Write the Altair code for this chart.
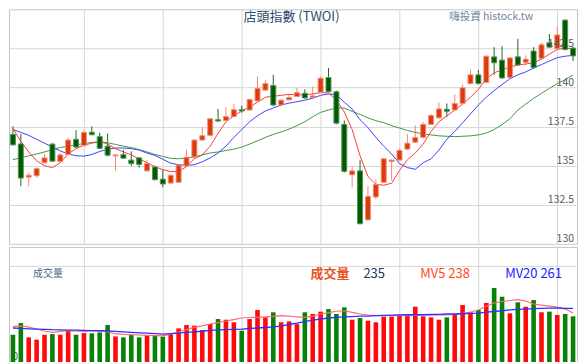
import altair as alt
import pandas as pd
import numpy as np

opens = [137.0, 136.39, 134.27, 134.36, 135.19, 136.38, 135.27, 135.71, 136.69, 136.29,
         137.14, 136.86, 136.25, 135.63, 135.71, 135.36, 135.5, 134.67, 134.92, 134.14,
         133.89, 133.94, 134.98, 135.56, 136.64, 136.94, 137.94, 137.89, 138.14, 138.58,
         138.56, 139.14, 139.83, 140.13, 138.88, 139.21, 139.42, 139.63, 139.36, 139.69,
         140.64, 139.73, 137.64, 134.42, 134.67, 131.54, 133.0, 133.94, 135.27, 135.36,
         136.06, 136.5, 136.81, 137.64, 138.06, 138.61, 138.56, 138.98, 140.25, 140.81,
         140.33, 141.96, 141.75, 140.64, 141.96, 141.61, 142.33, 141.86, 142.86, 142.48,
         144.31, 142.52]
closes = [136.33, 134.21, 134.39, 134.81, 135.5, 135.29, 135.69, 136.64, 136.19, 137.13,
          136.98, 136.11, 135.67, 135.69, 135.48, 135.13, 135.08, 135.14, 134.11, 133.83,
          134.39, 135.04, 135.54, 136.64, 136.92, 138.0, 137.86, 138.14, 138.58, 138.5,
          139.23, 139.94, 140.25, 138.88, 139.19, 139.36, 139.67, 139.33, 139.46, 140.59,
          139.73, 137.72, 134.64, 134.67, 131.29, 133.04, 133.79, 135.44, 135.36, 135.98,
          136.44, 136.81, 137.64, 138.21, 138.63, 138.48, 138.98, 139.98, 140.81, 140.25,
          142.0, 141.58, 140.61, 141.89, 141.44, 141.81, 141.27, 142.73, 142.58, 143.36,
          142.42, 142.02]
highs = [137.52, 137.02, 134.56, 134.88, 135.77, 136.44, 135.81, 136.81, 137.27, 137.25,
         137.52, 137.11, 137.06, 135.72, 136.02, 135.92, 135.55, 135.36, 135.0, 134.77,
         134.45, 135.1, 136.02, 136.7, 137.48, 138.05, 138.63, 138.73, 138.94, 138.83,
         139.3, 140.71, 140.5, 140.81, 139.25, 139.56, 139.98, 139.88, 140.06, 140.71,
         141.25, 139.8, 137.89, 134.94, 135.36, 133.69, 134.14, 135.5, 135.4, 136.1,
         137.03, 137.58, 137.8, 138.3, 139.04, 138.98, 139.56, 140.19, 141.13, 141.13,
         142.06, 142.58, 142.64, 141.95, 143.11, 142.06, 142.58, 142.86, 143.42, 143.89,
         144.35, 142.6]
lows = [136.3, 133.69, 133.69, 134.25, 135.15, 135.25, 135.19, 135.7, 136.15, 136.25,
        136.95, 136.05, 135.6, 134.69, 135.45, 134.98, 134.88, 134.6, 134.05, 133.63,
        133.85, 133.9, 134.95, 135.5, 136.6, 136.9, 137.79, 137.85, 138.1, 138.38,
        138.5, 139.1, 139.8, 138.8, 138.85, 139.2, 139.4, 139.3, 139.33, 139.65,
        139.7, 137.65, 134.56, 133.61, 131.25, 131.5, 132.86, 133.9, 134.06, 135.3,
        136.0, 136.45, 136.75, 137.6, 138.0, 138.11, 138.5, 138.95, 140.2, 140.2,
        140.3, 140.81, 140.55, 140.6, 141.4, 141.44, 141.2, 141.8, 142.55, 142.45,
        142.4, 141.69]
ma5 = [137.38, 136.56, 135.88, 135.31, 135.0, 134.88, 135.19, 135.75, 136.09, 136.31,
       136.44, 136.53, 136.39, 136.09, 135.88, 135.69, 135.44, 135.19, 134.94, 134.75,
       134.63, 134.63, 134.94, 135.44, 135.69, 136.25, 137.06, 137.81, 138.19, 138.5,
       138.75, 139.06, 139.38, 139.44, 139.5, 139.56, 139.53, 139.53, 139.59, 139.67,
       139.66, 139.19, 138.44, 137.31, 135.63, 134.31, 133.81, 133.75, 133.88, 134.69,
       135.38, 135.81, 136.38, 137.19, 137.81, 138.19, 138.56, 138.94, 139.38, 139.88,
       140.56, 140.94, 141.13, 141.31, 141.44, 141.5, 141.59, 141.81, 142.13, 142.44,
       142.52, 142.48]
ma10 = [137.31, 137.13, 136.94, 136.69, 136.44, 136.19, 135.94, 135.75, 135.64, 135.61,
        135.72, 135.91, 136.06, 136.13, 136.13, 136.09, 136.0, 135.81, 135.66, 135.41,
        135.16, 135.06, 135.03, 135.06, 135.25, 135.5, 135.81, 136.25, 136.81, 137.31,
        137.81, 138.19, 138.5, 138.69, 138.88, 139.0, 139.09, 139.19, 139.31, 139.5,
        139.59, 139.53, 139.06, 138.63, 137.94, 137.44, 136.81, 136.25, 135.75, 135.13,
        134.88, 134.77, 135.19, 135.44, 136.0, 136.69, 137.19, 137.75, 138.31, 138.88,
        139.38, 139.81, 140.19, 140.56, 140.81, 141.0, 141.25, 141.47, 141.69, 141.91,
        142.0, 142.06]
ma20 = [135.39, 135.5, 135.63, 135.75, 135.88, 136.03, 136.16, 136.25, 136.34, 136.41,
        136.48, 136.54, 136.47, 136.36, 136.25, 136.16, 136.03, 135.88, 135.72, 135.59,
        135.47, 135.44, 135.5, 135.56, 135.69, 135.81, 135.88, 135.97, 136.06, 136.19,
        136.38, 136.59, 136.81, 137.0, 137.16, 137.34, 137.56, 137.81, 138.13, 138.41,
        138.56, 138.69, 138.69, 138.47, 138.28, 138.06, 137.88, 137.75, 137.56, 137.41,
        137.25, 137.13, 137.03, 136.97, 136.91, 136.88, 136.86, 136.88, 136.91, 136.97,
        137.09, 137.31, 137.63, 138.0, 138.56, 138.94, 139.31, 139.63, 139.94, 140.25,
        140.5, 140.81]
vols = [223, 313, 203, 185, 223, 228, 223, 259, 223, 236,
        234, 241, 298, 210, 203, 221, 203, 221, 215, 208,
        228, 272, 298, 293, 259, 306, 344, 339, 319, 254,
        344, 414, 357, 396, 319, 326, 305, 396, 383, 401,
        421, 383, 434, 339, 352, 331, 319, 362, 362, 370,
        375, 439, 365, 357, 339, 357, 383, 452, 396, 414,
        468, 583, 516, 388, 473, 439, 491, 396, 401, 375,
        383, 365]
vma5 = [285, 292, 282, 267, 252, 242, 248, 254, 252, 249,
        252, 254, 244, 231, 226, 223, 221, 218, 216, 215,
        228, 244, 263, 280, 292, 306, 317, 329, 340, 352,
        356, 357, 361, 365, 370, 367, 360, 357, 367, 383,
        394, 404, 408, 396, 383, 375, 370, 370, 370, 370,
        371, 373, 375, 375, 375, 375, 379, 387, 398, 414,
        444, 468, 479, 487, 493, 483, 460, 452, 444, 437,
        421, 390]
vma20 = [275, 272, 269, 267, 265, 262, 261, 259, 258, 256,
         255, 254, 252, 249, 245, 242, 238, 235, 231, 228,
         232, 236, 241, 245, 250, 256, 261, 263, 265, 267,
         271, 275, 279, 284, 290, 302, 313, 325, 336, 344,
         352, 357, 360, 363, 366, 367, 370, 372, 375, 376,
         377, 377, 377, 379, 380, 383, 383, 385, 388, 390,
         397, 402, 408, 414, 418, 421, 424, 426, 428, 429,
         427, 427]

price_ticks = [130, 132.5, 135, 137.5, 140, 142.5]
price_labels = ["130", "132.5", "135", "137.5", "140", "142.5"]
vol_ticks = [0, 250, 500, 750]
x_grid = [9, 19, 29, 39, 49, 59, 69]

n = len(opens)
df = pd.DataFrame({
    "i": list(range(n)), "open": opens, "high": highs, "low": lows, "close": closes,
    "ma5": ma5, "ma10": ma10, "ma20": ma20,
    "vol": vols, "vma5": vma5, "vma20": vma20,
})
df["dir"] = np.where(df["close"] >= df["open"], "up", "down")

W = 569
H1 = 235
H2 = 117
FONT = "Noto Sans CJK TC"
GRID = "#d6d6d6"

xs = alt.Scale(domain=[-0.5, n - 0.5], nice=False, zero=False, padding=0)
x_axis = alt.Axis(values=x_grid, grid=True, gridColor=GRID, labels=False, ticks=False,
                  domain=False, title=None)
X = alt.X("i:Q", scale=xs, axis=x_axis)

ys = alt.Scale(domain=[130, 145], nice=False, zero=False, padding=0)
y_axis = alt.Axis(values=price_ticks, labels=False, ticks=False, domain=False, grid=True,
                  gridColor=GRID, title=None)

dirs = ["up", "down"]
body_fill = alt.Scale(domain=dirs, range=["#dd3a0c", "#005a00"])
body_stroke = alt.Scale(domain=dirs, range=["#f0907a", "#5c925c"])
wick_col = alt.Scale(domain=dirs, range=["#f08a70", "#1f6a1f"])

base = alt.Chart(df)

wicks = base.mark_rule(strokeWidth=1).encode(
    x=X,
    y=alt.Y("low:Q", scale=ys, axis=y_axis),
    y2="high:Q",
    color=alt.Color("dir:N", scale=wick_col, legend=None),
)
bodies = base.mark_bar(width=5, strokeWidth=1).encode(
    x=alt.X("i:Q", scale=xs),
    y=alt.Y("open:Q", scale=ys),
    y2="close:Q",
    fill=alt.Fill("dir:N", scale=body_fill, legend=None),
    stroke=alt.Stroke("dir:N", scale=body_stroke, legend=None),
)
l_ma20 = base.mark_line(color="#3f9a3f", strokeWidth=1).encode(
    x=alt.X("i:Q", scale=xs), y=alt.Y("ma20:Q", scale=ys))
l_ma10 = base.mark_line(color="#4040ff", strokeWidth=1).encode(
    x=alt.X("i:Q", scale=xs), y=alt.Y("ma10:Q", scale=ys))
l_ma5 = base.mark_line(color="#ff3b3b", strokeWidth=1).encode(
    x=alt.X("i:Q", scale=xs), y=alt.Y("ma5:Q", scale=ys))

plab = alt.Chart(pd.DataFrame({"v": price_ticks, "t": price_labels})).mark_text(
    font=FONT, fontSize=10.5, color="#5a5a5a", align="right", baseline="alphabetic", dy=-1.5
).encode(text="t:N", y=alt.Y("v:Q", scale=ys), x=alt.value(566))

title_txt = alt.Chart(pd.DataFrame({"t": ["店頭指數 (TWOI)"]})).mark_text(
    font=FONT, fontSize=13, color="#2e4d6e", align="center", baseline="top"
).encode(text="t:N", x=alt.value(283), y=alt.value(2))
brand_txt = alt.Chart(pd.DataFrame({"t": ["嗨投資 histock.tw"]})).mark_text(
    font=FONT, fontSize=10.5, color="#6f86a0", align="center", baseline="top"
).encode(text="t:N", x=alt.value(483), y=alt.value(3))

price = alt.layer(wicks, l_ma20, l_ma10, l_ma5, bodies, plab, title_txt,
                  brand_txt).properties(width=W, height=H1)

vs = alt.Scale(domain=[0, 900], nice=False, zero=True, padding=0)
v_axis = alt.Axis(values=vol_ticks, orient="left", labelAlign="left", labelBaseline="alphabetic",
                  labelPadding=-3, tickSize=0, ticks=False, domain=False, grid=True,
                  gridColor=GRID, labelColor="#5a5a5a", labelFontSize=10, labelFont=FONT,
                  labelOffset=-4,
                  labelExpr="datum.value == 750 ? '' : toString(datum.value)", title=None)
vol_col = alt.Scale(domain=dirs, range=["#ff0a0a", "#078207"])

vbars = base.mark_bar(width=4.6).encode(
    x=X,
    y=alt.Y("vol:Q", scale=vs, axis=v_axis),
    color=alt.Color("dir:N", scale=vol_col, legend=None),
)
v5 = base.mark_line(color="#ff6a6a", strokeWidth=1.2).encode(
    x=alt.X("i:Q", scale=xs), y=alt.Y("vma5:Q", scale=vs))
v20 = base.mark_line(color="#3030ff", strokeWidth=1.3).encode(
    x=alt.X("i:Q", scale=xs), y=alt.Y("vma20:Q", scale=vs))

leg_t = ["成交量", "成交量", "235", "MV5 238", "MV20 261"]
leg_x = [24, 302, 355, 412, 497]
leg_c = ["#4a6a8c", "#e8541c", "#26355e", "#ff4a1a", "#1a1aff"]
leg_s = [10, 13, 13, 13, 13]
leg_txt = []
for k in range(len(leg_t)):
    leg_txt.append(
        alt.Chart(pd.DataFrame({"t": [leg_t[k]]})).mark_text(
            font=FONT, fontSize=leg_s[k], color=leg_c[k], align="left", baseline="middle",
            fontWeight="bold" if k == 1 else "normal"
        ).encode(text="t:N", x=alt.value(leg_x[k]), y=alt.value(27))
    )

volume = alt.layer(vbars, v5, v20, *leg_txt).properties(width=W, height=H2)

chart = alt.vconcat(price, volume, spacing=0, padding=0).resolve_scale(
    color="independent"
).configure_view(stroke="#c4c4c4", strokeWidth=1)

chart.save("out.html", embed_options={"renderer": "svg", "actions": False})
